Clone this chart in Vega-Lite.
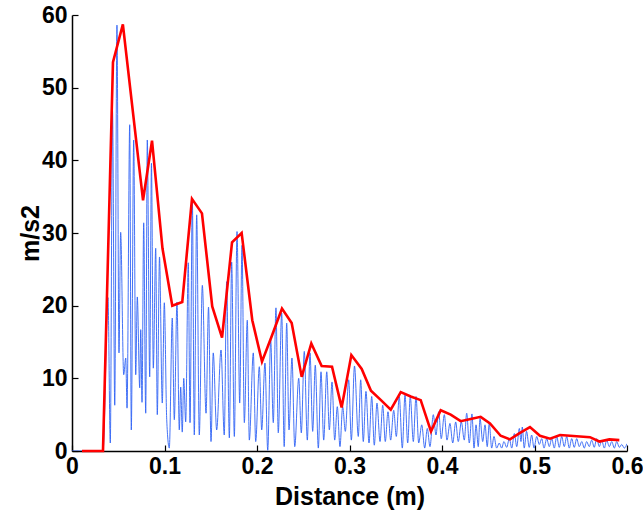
{
  "$schema": "https://vega.github.io/schema/vega-lite/v6.json",
  "width": 555,
  "height": 436,
  "autosize": "none",
  "padding": {"left": 72, "top": 15, "right": 16, "bottom": 65},
  "background": "white",
  "config": {
    "view": {"stroke": null},
    "axis": {
      "domainColor": "black",
      "domainWidth": 1.5,
      "tickColor": "black",
      "tickWidth": 1.2,
      "tickSize": -6,
      "grid": false,
      "labelFont": "Liberation Sans",
      "labelFontWeight": "bold",
      "labelFontSize": 23,
      "labelColor": "black",
      "titleFont": "Liberation Sans",
      "titleFontWeight": "bold",
      "titleFontSize": 25,
      "titleColor": "black"
    }
  },
  "datasets": {
    "blue": [
      {"x":0,"y":0},{"x":0.0335,"y":0},{"x":0.0389,"y":21.1},{"x":0.0414,"y":1.1},{"x":0.0438,"y":46.9},{"x":0.0462,"y":6.3},{"x":0.0486,"y":58.6},{"x":0.0508,"y":13.5},{"x":0.0526,"y":30.1},{"x":0.0559,"y":10.5},{"x":0.0581,"y":12.8},{"x":0.0595,"y":5.9},{"x":0.0624,"y":44.9},{"x":0.0641,"y":2.9},{"x":0.0667,"y":42.8},{"x":0.0689,"y":10.5},{"x":0.0706,"y":21.2},{"x":0.0732,"y":8.7},{"x":0.0743,"y":16.7},{"x":0.0757,"y":6.7},{"x":0.0775,"y":31.4},{"x":0.0797,"y":5.2},{"x":0.0814,"y":42.8},{"x":0.084,"y":10.2},{"x":0.0859,"y":39.6},{"x":0.0879,"y":11.4},{"x":0.0905,"y":27.9},{"x":0.0922,"y":5.0},{"x":0.0946,"y":26.7},{"x":0.0976,"y":6.6},{"x":0.0998,"y":20.4},{"x":0.1024,"y":4.3},{"x":0.1052,"y":0.4},{"x":0.1084,"y":18.3},{"x":0.1106,"y":4.3},{"x":0.1135,"y":20.5},{"x":0.116,"y":2.9},{"x":0.1175,"y":8.8},{"x":0.1192,"y":2.6},{"x":0.1208,"y":10.0},{"x":0.1229,"y":4.0},{"x":0.1257,"y":25.9},{"x":0.1276,"y":3.9},{"x":0.1301,"y":34.5},{"x":0.1322,"y":2.2},{"x":0.1348,"y":32.5},{"x":0.1376,"y":2.2},{"x":0.1409,"y":22.8},{"x":0.1449,"y":5.2},{"x":0.1476,"y":19.8},{"x":0.1503,"y":1.3},{"x":0.1527,"y":13.5},{"x":0.1564,"y":2.9},{"x":0.1611,"y":13.9},{"x":0.1646,"y":2.2},{"x":0.1672,"y":23.3},{"x":0.1701,"y":1.8},{"x":0.1726,"y":26.0},{"x":0.1755,"y":2.0},{"x":0.1784,"y":30.2},{"x":0.1813,"y":6.6},{"x":0.1838,"y":28.3},{"x":0.1863,"y":3.9},{"x":0.1895,"y":18.0},{"x":0.1917,"y":1.5},{"x":0.196,"y":13.5},{"x":0.1986,"y":1.3},{"x":0.2025,"y":11.6},{"x":0.2051,"y":2.9},{"x":0.2086,"y":12.1},{"x":0.2116,"y":0.1},{"x":0.2148,"y":15.3},{"x":0.2176,"y":3.9},{"x":0.2205,"y":19.7},{"x":0.223,"y":2.5},{"x":0.2267,"y":19.0},{"x":0.2294,"y":0.6},{"x":0.2321,"y":17.6},{"x":0.2346,"y":2.9},{"x":0.2378,"y":12.8},{"x":0.2408,"y":0.6},{"x":0.2451,"y":10.0},{"x":0.2479,"y":2.5},{"x":0.2511,"y":13.7},{"x":0.2544,"y":1.5},{"x":0.2573,"y":13.5},{"x":0.2602,"y":2.7},{"x":0.263,"y":11.8},{"x":0.2663,"y":0.4},{"x":0.2692,"y":10.9},{"x":0.2721,"y":1.5},{"x":0.2754,"y":10.9},{"x":0.2782,"y":2.9},{"x":0.2811,"y":9.5},{"x":0.284,"y":1.5},{"x":0.2868,"y":6.1},{"x":0.2897,"y":0.6},{"x":0.2926,"y":6.1},{"x":0.2955,"y":2.7},{"x":0.2991,"y":9.8},{"x":0.302,"y":1.5},{"x":0.3054,"y":11.7},{"x":0.3095,"y":2.0},{"x":0.3121,"y":9.8},{"x":0.3149,"y":1.3},{"x":0.3178,"y":8.2},{"x":0.3211,"y":1.1},{"x":0.324,"y":7.5},{"x":0.3268,"y":0.8},{"x":0.3297,"y":6.6},{"x":0.333,"y":1.3},{"x":0.3359,"y":6.3},{"x":0.3387,"y":1.3},{"x":0.3416,"y":5.4},{"x":0.3445,"y":1.5},{"x":0.3478,"y":5.6},{"x":0.3506,"y":2.0},{"x":0.3538,"y":7.5},{"x":0.3571,"y":0.4},{"x":0.36,"y":7.7},{"x":0.3629,"y":1.1},{"x":0.3657,"y":7.5},{"x":0.369,"y":1.3},{"x":0.3719,"y":7.5},{"x":0.3748,"y":1.1},{"x":0.3781,"y":3.6},{"x":0.3813,"y":0.4},{"x":0.3841,"y":3.1},{"x":0.387,"y":0.6},{"x":0.3906,"y":5.0},{"x":0.3935,"y":2.2},{"x":0.3964,"y":5.4},{"x":0.3992,"y":1.7},{"x":0.4025,"y":5.0},{"x":0.4054,"y":1.5},{"x":0.4086,"y":3.8},{"x":0.4116,"y":1.1},{"x":0.4148,"y":4.0},{"x":0.4176,"y":1.3},{"x":0.4209,"y":4.0},{"x":0.4241,"y":1.5},{"x":0.4267,"y":5.2},{"x":0.4295,"y":1.1},{"x":0.4324,"y":5.1},{"x":0.4346,"y":0.4},{"x":0.4368,"y":3.6},{"x":0.4392,"y":0.6},{"x":0.4411,"y":4.5},{"x":0.444,"y":1.3},{"x":0.4465,"y":3.6},{"x":0.4489,"y":0.6},{"x":0.4511,"y":3.8},{"x":0.4537,"y":0.4},{"x":0.4562,"y":2.0},{"x":0.4591,"y":0.4},{"x":0.4619,"y":1.1},{"x":0.4645,"y":0.4},{"x":0.467,"y":1.3},{"x":0.4699,"y":0.5},{"x":0.4728,"y":1.7},{"x":0.4754,"y":0.4},{"x":0.4782,"y":2.4},{"x":0.4808,"y":0.6},{"x":0.4836,"y":3.1},{"x":0.4854,"y":1.3},{"x":0.4868,"y":3.3},{"x":0.4889,"y":0.4},{"x":0.4914,"y":2.7},{"x":0.4943,"y":0.5},{"x":0.4969,"y":2.2},{"x":0.4995,"y":0.4},{"x":0.5024,"y":2.0},{"x":0.5052,"y":0.9},{"x":0.5078,"y":1.7},{"x":0.5103,"y":0.4},{"x":0.5132,"y":1.7},{"x":0.516,"y":0.6},{"x":0.5186,"y":1.7},{"x":0.5214,"y":0.4},{"x":0.524,"y":2.0},{"x":0.5268,"y":0.5},{"x":0.5294,"y":2.0},{"x":0.5322,"y":0.6},{"x":0.5348,"y":2.0},{"x":0.5376,"y":0.4},{"x":0.5402,"y":1.7},{"x":0.543,"y":0.5},{"x":0.5456,"y":1.7},{"x":0.5484,"y":0.6},{"x":0.5511,"y":1.3},{"x":0.5538,"y":0.4},{"x":0.5564,"y":1.3},{"x":0.5592,"y":0.6},{"x":0.5618,"y":1.5},{"x":0.5646,"y":0.5},{"x":0.5672,"y":1.7},{"x":0.5701,"y":0.6},{"x":0.5726,"y":1.5},{"x":0.5755,"y":0.4},{"x":0.578,"y":1.5},{"x":0.5809,"y":0.6},{"x":0.5835,"y":1.3},{"x":0.5863,"y":0.4},{"x":0.5889,"y":1.3},{"x":0.5917,"y":0.5},{"x":0.5943,"y":0.9},{"x":0.5971,"y":0.4},{"x":0.6,"y":1.0}
    ],
    "red": [
      {"x":0.0108,"y":0},{"x":0.0335,"y":0},{"x":0.0443,"y":53.5},{"x":0.055,"y":58.7},{"x":0.0768,"y":34.5},{"x":0.0865,"y":42.7},{"x":0.0978,"y":27.9},{"x":0.1084,"y":20.0},{"x":0.1192,"y":20.5},{"x":0.1297,"y":34.7},{"x":0.1405,"y":32.7},{"x":0.1516,"y":19.9},{"x":0.1622,"y":15.6},{"x":0.173,"y":28.7},{"x":0.1834,"y":30.0},{"x":0.1949,"y":18.0},{"x":0.2054,"y":12.3},{"x":0.2162,"y":15.9},{"x":0.227,"y":19.6},{"x":0.2375,"y":17.6},{"x":0.2483,"y":10.2},{"x":0.2587,"y":14.8},{"x":0.2699,"y":11.7},{"x":0.2811,"y":11.6},{"x":0.2915,"y":6.0},{"x":0.302,"y":13.2},{"x":0.3132,"y":11.3},{"x":0.3232,"y":8.3},{"x":0.334,"y":7.0},{"x":0.3446,"y":5.7},{"x":0.3554,"y":8.1},{"x":0.3662,"y":7.5},{"x":0.377,"y":7.0},{"x":0.3881,"y":2.7},{"x":0.3986,"y":5.6},{"x":0.4094,"y":5.0},{"x":0.4202,"y":4.1},{"x":0.431,"y":4.4},{"x":0.4418,"y":4.7},{"x":0.4519,"y":3.8},{"x":0.4634,"y":2.1},{"x":0.4735,"y":1.6},{"x":0.4843,"y":2.5},{"x":0.4951,"y":3.3},{"x":0.5059,"y":2.1},{"x":0.5168,"y":1.7},{"x":0.5276,"y":2.2},{"x":0.5384,"y":2.1},{"x":0.5492,"y":2.0},{"x":0.56,"y":1.9},{"x":0.5701,"y":1.3},{"x":0.5809,"y":1.6},{"x":0.5917,"y":1.5}
    ]
  },
  "encoding": {
    "x": {
      "field": "x", "type": "quantitative",
      "scale": {"domain": [0, 0.6], "nice": false, "zero": false},
      "axis": {"title": "Distance (m)", "values": [0,0.1,0.2,0.3,0.4,0.5,0.6], "format": "~g", "labelPadding": 10, "titlePadding": 6, "labelFlush": false}
    },
    "y": {
      "field": "y", "type": "quantitative",
      "scale": {"domain": [0, 60], "nice": false},
      "axis": {"title": "m/s2", "values": [0,10,20,30,40,50,60], "labelPadding": 11, "titlePadding": -2}
    }
  },
  "layer": [
    {
      "data": {"name": "blue"},
      "mark": {"type": "line", "color": "#2f62f5", "strokeWidth": 0.9, "interpolate": "monotone", "clip": true}
    },
    {
      "data": {"name": "red"},
      "mark": {"type": "line", "color": "#ff0000", "strokeWidth": 2.6}
    }
  ]
}
